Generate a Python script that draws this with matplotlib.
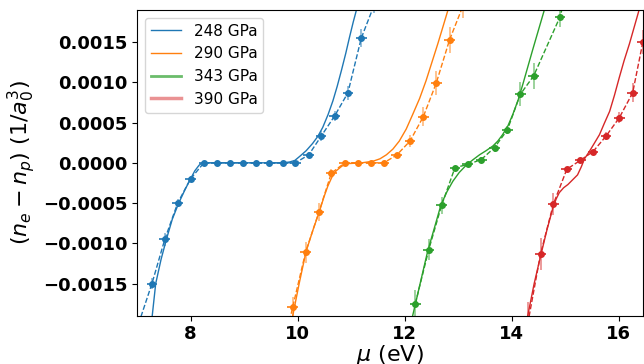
import matplotlib
matplotlib.use('Agg')
import matplotlib.pyplot as plt
from matplotlib.lines import Line2D
from matplotlib.ticker import FuncFormatter

# Charge imbalance vs chemical potential, four pressures.
labels = ['248 GPa', '290 GPa', '343 GPa', '390 GPa']
colors = ['#1f77b4', '#ff7f0e', '#2ca02c', '#d62728']

# solid curves (model)
mu_248 = [7.285, 7.35, 7.45, 7.55, 7.66, 7.78, 7.9, 8.0, 8.08, 8.16, 8.22, 9.72, 9.85, 9.95, 10.04, 10.16,
          10.28, 10.38, 10.47, 10.57, 10.66, 10.74, 10.82, 10.9, 10.97, 11.04, 11.1]
n_248 = [-0.0019, -0.0015, -0.0012, -0.00095, -0.0007, -0.0005, -0.00033, -0.0002, -0.0001, -0.00003, 0.0,
         0.0, 0.00001, 0.00003, 0.00008, 0.00015, 0.00024, 0.00033, 0.00044, 0.0006, 0.00077, 0.00095,
         0.00115, 0.00136, 0.00156, 0.00175, 0.0019]
mu_290 = [9.91, 10.03, 10.16, 10.29, 10.41, 10.49, 10.565, 10.64, 10.72, 10.83, 10.94, 11.2, 11.41, 11.54,
          11.66, 11.78, 11.9, 12.03, 12.15, 12.28, 12.4, 12.51, 12.62, 12.72, 12.81]
n_290 = [-0.0019, -0.0015, -0.0011, -0.00083, -0.0006, -0.00043, -0.00029, -0.00018, -0.0001, -0.00004,
         -0.00001, 0.0, 0.00002, 0.00005, 0.0001, 0.00017, 0.00027, 0.00042, 0.0006, 0.0008, 0.00102,
         0.00125, 0.00148, 0.0017, 0.0019]
mu_343 = [12.15, 12.29, 12.43, 12.56, 12.68, 12.79, 12.9, 13.02, 13.15, 13.28, 13.4, 13.52, 13.65, 13.74,
          13.83, 13.93, 14.02, 14.12, 14.21, 14.3, 14.39, 14.5, 14.61]
n_343 = [-0.0019, -0.0015, -0.0011, -0.0008, -0.00052, -0.00036, -0.00023, -0.00012, -0.00003, 0.00004,
         0.0001, 0.00015, 0.00021, 0.00027, 0.00035, 0.00046, 0.0006, 0.00078, 0.00098, 0.00119, 0.0014,
         0.00165, 0.0019]
mu_390 = [14.3, 14.42, 14.55, 14.66, 14.77, 14.83, 14.89, 14.97, 15.05, 15.14, 15.23, 15.3, 15.36, 15.45,
          15.55, 15.64, 15.73, 15.83, 15.92, 16.01, 16.1, 16.2, 16.29, 16.38]
n_390 = [-0.0019, -0.0015, -0.00113, -0.00083, -0.00056, -0.00045, -0.00037, -0.00031, -0.00027, -0.00021,
         -0.00015, -0.00005, 0.00005, 0.00014, 0.00025, 0.00035, 0.00049, 0.00064, 0.00084, 0.00106,
         0.00127, 0.00148, 0.00169, 0.0019]

# points with error bars (dashed)
pmu_248 = [7.03, 7.28, 7.52, 7.76, 8.0, 8.25, 8.49, 8.74, 8.98, 9.23, 9.47, 9.72, 9.96, 10.21, 10.44, 10.69, 10.94, 11.19, 11.43]
pn_248 = [-0.002, -0.0015, -0.00095, -0.0005, -0.0002, 0, 0, 0, 0, 0, 0, 0, 0, 0.0001, 0.00033, 0.00058, 0.00087, 0.00155, 0.00196]
perr_248 = [0.0001, 0.00007, 0.00008, 0.00005, 0.00003, 0, 0, 0, 0, 0, 0, 0, 0, 0.00003, 0.00006, 0.00006, 0.00009, 0.00011, 0.0001]

pmu_290 = [9.67, 9.91, 10.15, 10.4, 10.63, 10.88, 11.12, 11.37, 11.61, 11.85, 12.1, 12.35, 12.59, 12.84, 13.09]
pn_290 = [-0.0025, -0.00179, -0.00111, -0.00061, -0.00013, 0, 0, 0, 0, 0.000095, 0.00027, 0.000575, 0.00099, 0.00153, 0.00195]
perr_290 = [0.0001, 0.00012, 0.00013, 0.00011, 0.00005, 0, 0, 0, 0, 0.00003, 0.00007, 0.00012, 0.00015, 0.00016, 0.00015]

pmu_343 = [12.2, 12.45, 12.69, 12.94, 13.18, 13.43, 13.68, 13.92, 14.16, 14.41, 14.9, 15.14]
pn_343 = [-0.00175, -0.00108, -0.00053, -0.00006, -0.00002, 0.00004, 0.00019, 0.00041, 0.00085, 0.00108, 0.00181, 0.0024]
perr_343 = [0.00017, 0.00013, 0.0001, 0.00002, 0.00002, 0.00003, 0.00005, 0.00005, 0.00015, 0.00016, 0.00012, 0.00015]

pmu_390 = [14.3, 14.54, 14.78, 15.03, 15.28, 15.52, 15.76, 16.01, 16.26, 16.45]
pn_390 = [-0.002, -0.00113, -0.00051, -0.00008, 0.00003, 0.00014, 0.00033, 0.00056, 0.00087, 0.0015]
perr_390 = [0.00027, 0.0002, 0.00014, 0.00003, 0.00002, 0.00002, 0.00005, 0.00007, 0.00012, 0.00015]

mu_err = 0.1

curves = [(mu_248, n_248), (mu_290, n_290), (mu_343, n_343), (mu_390, n_390)]
points = [(pmu_248, pn_248, perr_248), (pmu_290, pn_290, perr_290),
          (pmu_343, pn_343, perr_343), (pmu_390, pn_390, perr_390)]

fig = plt.figure(figsize=(6.44, 3.64), dpi=100)
ax = fig.add_axes([0.2127, 0.1327, 0.7855, 0.84])

for (cx, cy), (px, py, pe), c in zip(curves, points, colors):
    ax.plot(cx, cy, '-', color=c, lw=1.0)
    ax.errorbar(px, py, xerr=mu_err, yerr=pe, fmt='o--', color=c, ms=4, lw=1.0,
                elinewidth=1.2, ecolor=c, capsize=0)
    # lighten the error bars a bit
    for coll in ax.collections[-1:]:
        coll.set_alpha(0.55)

ax.set_xlim(7.0, 16.45)
ax.set_ylim(-0.0019, 0.0019)
ax.set_xticks([8, 10, 12, 14, 16])
ax.set_yticks([-0.0015, -0.001, -0.0005, 0.0, 0.0005, 0.001, 0.0015])
ax.yaxis.set_major_formatter(FuncFormatter(lambda v, p: ('%.4f' % v).replace('-', '\u2212') if abs(v) > 1e-9 else '0.0000'))

for lab in ax.get_xticklabels() + ax.get_yticklabels():
    lab.set_fontsize(13)
    lab.set_fontweight('bold')

ax.set_xlabel(r'$\mu$ (eV)', fontsize=16, labelpad=0)
ax.set_ylabel(r'$(n_e - n_p)$ $(1/a_0^3)$', fontsize=16, labelpad=4)

handles = [Line2D([], [], color=colors[0], lw=1.0),
           Line2D([], [], color=colors[1], lw=1.0),
           Line2D([], [], color=colors[2], lw=2.0, alpha=0.7),
           Line2D([], [], color=colors[3], lw=2.5, alpha=0.5)]
ax.legend(handles, labels, loc='upper left', fontsize=11)

fig.savefig('out.png', dpi=100)
